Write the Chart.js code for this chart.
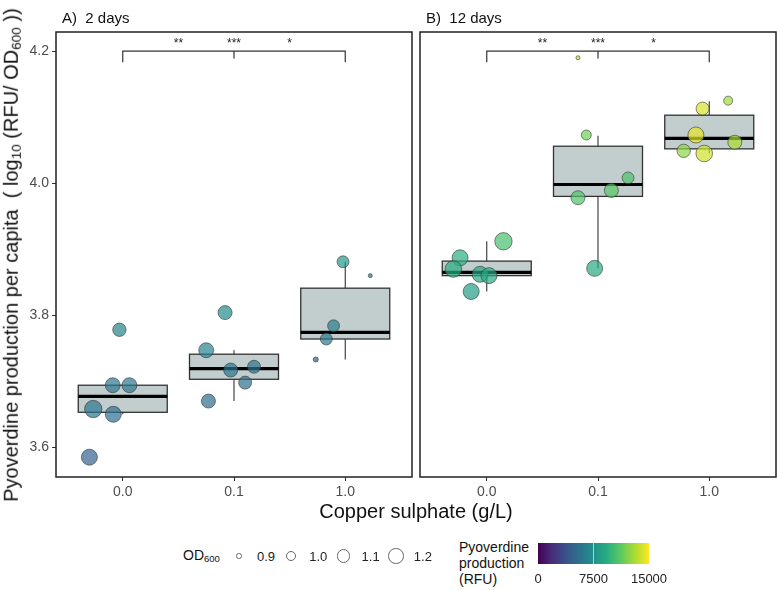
<!DOCTYPE html>
<html>
<head>
<meta charset="utf-8">
<script src="https://cdn.jsdelivr.net/npm/chart.js@4.4.0/dist/chart.umd.min.js"></script>
<style>
    body {
        margin: 0;
        width: 777px;
        height: 590px;
        background: #fff;
        position: relative;
        overflow: hidden;
        font-family: 'Liberation Sans', Arial, sans-serif;
        color: #111;
    }
    .painel { position: absolute; top: 0; height: 500px; }
    #painelA { left: 0; width: 416px; }
    #painelB { left: 416px; width: 361px; }
    .faceta { position: absolute; top: 9px; font-size: 15px; white-space: pre; }
    #tituloY {
        position: absolute; left: 12px; top: 255px;
        transform: translate(-50%, -50%) rotate(-90deg);
        white-space: nowrap; font-size: 20px;
    }
    #tituloY sub, #legOD sub { font-size: 0.68em; vertical-align: -0.25em; }
    #tituloX {
        position: absolute; left: 416px; top: 511px;
        transform: translate(-50%, -50%);
        white-space: nowrap; font-size: 20px;
    }
    #legOD { position: absolute; left: 183px; top: 547px; font-size: 14px; }
    .circulo { position: absolute; border: 1px solid #666; border-radius: 50%; box-sizing: border-box; }
    .rotulo { position: absolute; font-size: 13px; transform: translate(-50%, -50%); color: #222; }
    #legCor { position: absolute; left: 459px; top: 539px; font-size: 14px; line-height: 16px; }
    #barraCor {
        position: absolute; left: 538px; top: 543px; width: 111px; height: 21px;
    }
    #marcaCor { position: absolute; left: 55px; top: 0; width: 1px; height: 21px; background: rgba(255,255,255,0.6); }
</style>
</head>
<body>
<div id="painelA" class="painel"><canvas id="graficoA"></canvas></div>
<div id="painelB" class="painel"><canvas id="graficoB"></canvas></div>
<div class="faceta" style="left:62px">A)  2 days</div>
<div class="faceta" style="left:426px">B)  12 days</div>
<div id="tituloY">Pyoverdine production per capita&nbsp; ( log<sub>10</sub> (RFU/ OD<sub>600</sub> ))</div>
<div id="tituloX">Copper sulphate (g/L)</div>
<div id="legOD">OD<sub>600</sub></div>
<div id="legCor">Pyoverdine<br>production<br>(RFU)</div>
<div id="barraCor"><div id="marcaCor"></div></div>
<script>
// Dados
const categorias = ['0.0', '0.1', '1.0'];
const ticksY = [3.6, 3.8, 4.0, 4.2];
const quebrasOD = [0.9, 1.0, 1.1, 1.2];
const quebrasRFU = [0, 7500, 15000];

// A) 2 dias
const grupoA = [0, 0, 0, 0, 0, 0, 1, 1, 1, 1, 1, 1, 2, 2, 2, 2, 2];
const jitterA = [-0.03, -0.09, 0.06, -0.265, -0.085, -0.30, -0.08, -0.25, -0.03, 0.18, 0.10, -0.23, -0.02, 0.225, -0.105, -0.17, -0.265];
const valoresA = [3.778, 3.694, 3.694, 3.658, 3.650, 3.585, 3.804, 3.747, 3.717, 3.722, 3.698, 3.670, 3.881, 3.860, 3.784, 3.764, 3.733];
const odA = [1.105, 1.17, 1.17, 1.29, 1.22, 1.22, 1.13, 1.17, 1.13, 1.09, 1.09, 1.13, 1.05, 0.887, 1.05, 1.05, 0.896];
const rfuA = [6630, 5780, 5780, 5870, 5450, 4690, 7200, 6530, 5890, 5750, 5440, 5290, 7980, 6420, 6390, 6100, 4850];
const minA = [3.650, 3.670, 3.733];
const q1A = [3.653, 3.703, 3.764];
const medianaA = [3.677, 3.719, 3.774];
const q3A = [3.694, 3.741, 3.841];
const maxA = [3.694, 3.747, 3.881];

// B) 12 dias
const grupoB = [0, 0, 0, 0, 0, 0, 1, 1, 1, 1, 1, 1, 2, 2, 2, 2, 2, 2];
const jitterB = [0.15, -0.24, -0.30, -0.06, 0.02, -0.14, -0.105, 0.27, 0.12, -0.18, -0.03, -0.18, 0.17, -0.06, -0.12, 0.23, -0.23, -0.045];
const valoresB = [3.912, 3.887, 3.870, 3.862, 3.860, 3.836, 4.073, 4.008, 3.989, 3.978, 3.871, 4.190, 4.125, 4.113, 4.073, 4.062, 4.049, 4.045];
const odB = [1.29, 1.22, 1.25, 1.22, 1.22, 1.22, 0.99, 1.05, 1.13, 1.13, 1.22, 0.887, 0.965, 1.09, 1.22, 1.13, 1.105, 1.25];
const rfuB = [10530, 9400, 9270, 8880, 8840, 8360, 11710, 10700, 11020, 10740, 9070, 13740, 12870, 14140, 14430, 13040, 12370, 13870];
const minB = [3.836, 3.871, 4.045];
const q1B = [3.860, 3.980, 4.052];
const medianaB = [3.865, 3.998, 4.068];
const q3B = [3.882, 4.056, 4.103];
const maxB = [3.912, 4.072, 4.124];

// Significância
const sigRotulos = ['**', '***', '*'];
const sigPosX = [1.5, 2, 2.5];

const FONTE = "'Liberation Sans', Arial, sans-serif";
const VIRIDIS = ['#440154', '#472d7b', '#3b528b', '#2c728e', '#21918c', '#28ae80', '#5ec962', '#addc30', '#fde725'];

function hexParaRgb(h) {
    return [parseInt(h.slice(1, 3), 16), parseInt(h.slice(3, 5), 16), parseInt(h.slice(5, 7), 16)];
}

function corViridis(t, alfa) {
    t = Math.max(0, Math.min(1, t));
    const p = t * (VIRIDIS.length - 1);
    const i = Math.min(Math.floor(p), VIRIDIS.length - 2);
    const f = p - i;
    const a = hexParaRgb(VIRIDIS[i]);
    const b = hexParaRgb(VIRIDIS[i + 1]);
    const c = a.map((v, k) => Math.round(v + (b[k] - v) * f));
    return `rgba(${c[0]}, ${c[1]}, ${c[2]}, ${alfa})`;
}

function raioOD(od) {
    return 1 + 7 * Math.sqrt(Math.max(0, od - 0.88) / 0.34);
}

// caixas do boxplot desenhadas com as escalas do gráfico
const pluginCaixas = {
    id: 'caixas',
    beforeDatasetsDraw(chart, args, opts) {
        const { ctx, scales: { x, y } } = chart;
        ctx.save();
        for (let i = 0; i < opts.q1.length; i++) {
            const cx = x.getPixelForValue(i + 1);
            const esq = x.getPixelForValue(i + 0.6);
            const dir = x.getPixelForValue(i + 1.4);
            const yQ1 = y.getPixelForValue(opts.q1[i]);
            const yQ3 = y.getPixelForValue(opts.q3[i]);
            ctx.strokeStyle = '#333';
            ctx.lineWidth = 1.1;
            ctx.beginPath();
            ctx.moveTo(cx, y.getPixelForValue(opts.min[i]));
            ctx.lineTo(cx, yQ1);
            ctx.moveTo(cx, yQ3);
            ctx.lineTo(cx, y.getPixelForValue(opts.max[i]));
            ctx.stroke();
            ctx.fillStyle = '#c2cece';
            ctx.fillRect(esq, yQ3, dir - esq, yQ1 - yQ3);
            ctx.lineWidth = 1.3;
            ctx.strokeRect(esq, yQ3, dir - esq, yQ1 - yQ3);
            const yMed = y.getPixelForValue(opts.mediana[i]);
            ctx.strokeStyle = '#000';
            ctx.lineWidth = 3.2;
            ctx.beginPath();
            ctx.moveTo(esq, yMed);
            ctx.lineTo(dir, yMed);
            ctx.stroke();
        }
        ctx.restore();
    }
};

// colchete de significância e moldura do painel
const pluginMoldura = {
    id: 'moldura',
    afterDatasetsDraw(chart) {
        const { ctx, chartArea: a, scales: { x, y } } = chart;
        ctx.save();
        ctx.strokeStyle = '#333';
        ctx.lineWidth = 1.2;
        const yTopo = y.getPixelForValue(4.2);
        const yPonta = y.getPixelForValue(4.183);
        const yMeio = y.getPixelForValue(4.189);
        ctx.beginPath();
        ctx.moveTo(x.getPixelForValue(1), yPonta);
        ctx.lineTo(x.getPixelForValue(1), yTopo);
        ctx.lineTo(x.getPixelForValue(3), yTopo);
        ctx.lineTo(x.getPixelForValue(3), yPonta);
        ctx.moveTo(x.getPixelForValue(2), yTopo);
        ctx.lineTo(x.getPixelForValue(2), yMeio);
        ctx.stroke();
        ctx.fillStyle = '#222';
        ctx.font = `12px ${FONTE}`;
        ctx.textAlign = 'center';
        ctx.textBaseline = 'middle';
        sigRotulos.forEach((r, i) => {
            ctx.fillText(r, x.getPixelForValue(sigPosX[i]), y.getPixelForValue(4.212));
        });
        ctx.strokeStyle = '#222';
        ctx.lineWidth = 1.5;
        ctx.strokeRect(a.left, a.top, a.right - a.left, a.bottom - a.top);
        ctx.restore();
    }
};

function criarPainel(id, cfg) {
    const pontos = cfg.valores.map((v, i) => ({
        x: cfg.grupo[i] + 1 + cfg.jitter[i],
        y: v,
        r: raioOD(cfg.od[i])
    }));
    const eixoTicks = { color: '#4d4d4d', font: { size: 14, family: FONTE }, padding: 3 };
    const grade = { drawOnChartArea: false, drawTicks: true, tickLength: 4, color: '#333' };

    return new Chart(document.getElementById(id), {
        type: 'bubble',
        data: {
            datasets: [{
                data: pontos,
                backgroundColor: cfg.rfu.map(v => corViridis(v / 15000, 0.7)),
                borderColor: 'rgba(50, 50, 50, 0.85)',
                borderWidth: 0.7
            }]
        },
        options: {
            responsive: true,
            maintainAspectRatio: false,
            animation: false,
            layout: { padding: cfg.padding, autoPadding: false },
            plugins: {
                legend: { display: false },
                tooltip: { enabled: false },
                caixas: { min: cfg.min, q1: cfg.q1, mediana: cfg.mediana, q3: cfg.q3, max: cfg.max }
            },
            scales: {
                x: {
                    type: 'linear',
                    min: 0.4,
                    max: 3.6,
                    afterBuildTicks: s => { s.ticks = categorias.map((c, i) => ({ value: i + 1 })); },
                    ticks: { ...eixoTicks, maxRotation: 0, autoSkip: false, callback: v => categorias[Math.round(v) - 1] },
                    grid: grade,
                    border: { display: false },
                    afterFit: s => { s.height = 23; }
                },
                y: {
                    type: 'linear',
                    display: cfg.larguraY > 0,
                    min: 3.555,
                    max: 4.229,
                    afterBuildTicks: s => { s.ticks = ticksY.map(v => ({ value: v })); },
                    ticks: { ...eixoTicks, callback: v => v.toFixed(1) },
                    grid: grade,
                    border: { display: false },
                    afterFit: s => { s.width = cfg.larguraY; }
                }
            }
        },
        plugins: [pluginCaixas, pluginMoldura]
    });
}

criarPainel('graficoA', {
    grupo: grupoA, jitter: jitterA, valores: valoresA, od: odA, rfu: rfuA,
    min: minA, q1: q1A, mediana: medianaA, q3: q3A, max: maxA,
    larguraY: 56, padding: { top: 32, right: 4, left: 0, bottom: 0 }
});

criarPainel('graficoB', {
    grupo: grupoB, jitter: jitterB, valores: valoresB, od: odB, rfu: rfuB,
    min: minB, q1: q1B, mediana: medianaB, q3: q3B, max: maxB,
    larguraY: 0, padding: { top: 32, right: 1, left: 4, bottom: 0 }
});

// legenda de tamanho (OD600)
quebrasOD.forEach((od, i) => {
    const r = raioOD(od);
    const cx = 239 + 52.3 * i;
    const c = document.createElement('div');
    c.className = 'circulo';
    c.style.left = (cx - r) + 'px';
    c.style.top = (556 - r) + 'px';
    c.style.width = (2 * r) + 'px';
    c.style.height = (2 * r) + 'px';
    document.body.appendChild(c);
    const t = document.createElement('div');
    t.className = 'rotulo';
    t.style.left = (cx + 27) + 'px';
    t.style.top = '556px';
    t.textContent = od.toFixed(1);
    document.body.appendChild(t);
});

// barra de cores (RFU)
const paradas = VIRIDIS.map((c, i) => `${c} ${(i / (VIRIDIS.length - 1) * 100).toFixed(1)}%`);
document.getElementById('barraCor').style.background = `linear-gradient(to right, ${paradas.join(', ')})`;
quebrasRFU.forEach(v => {
    const t = document.createElement('div');
    t.className = 'rotulo';
    t.style.left = (538 + 111 * v / 15000) + 'px';
    t.style.top = '578px';
    t.textContent = v;
    document.body.appendChild(t);
});
</script>
</body>
</html>
